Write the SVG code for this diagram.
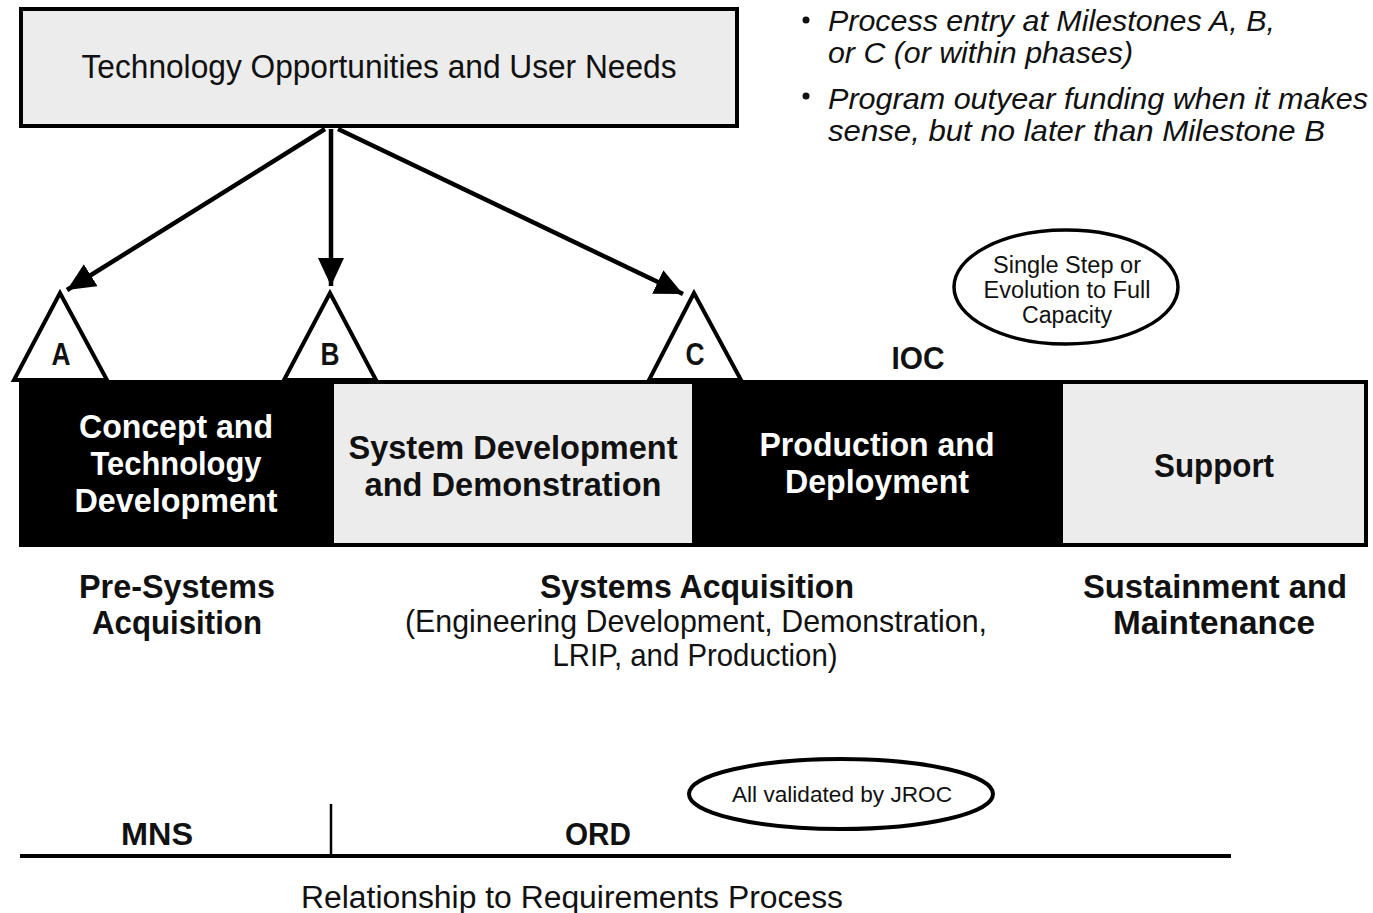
<svg xmlns="http://www.w3.org/2000/svg" width="1373" height="913" viewBox="0 0 1373 913">
<defs>
<style>
.reg{font-family:"Liberation Sans Narrow","Liberation Sans",Arial,sans-serif;fill:#111}
.bld{font-family:"Liberation Sans Narrow","Liberation Sans",Arial,sans-serif;font-weight:bold;fill:#111}
.wht{font-family:"Liberation Sans Narrow","Liberation Sans",Arial,sans-serif;font-weight:bold;fill:#fff}
.ital{font-family:"Liberation Sans","Arial",sans-serif;font-style:italic;fill:#111}
.conn{stroke:#000;stroke-width:4.5;fill:none}
.tri{fill:#fff;stroke:#000;stroke-width:4;stroke-linejoin:miter}
</style>
<marker id="ah" markerUnits="userSpaceOnUse" markerWidth="30" markerHeight="26" refX="28" refY="13" orient="auto">
<path d="M0,0 L28,13 L0,26 z" fill="#000"/>
</marker>
</defs>
<rect width="1373" height="913" fill="#fff"/>

<g id="needs">
<rect x="21" y="9" width="716" height="117" fill="#ececec" stroke="#000" stroke-width="4"/>
<text class="reg" x="379" y="78" font-size="34" text-anchor="middle" textLength="595" lengthAdjust="spacingAndGlyphs">Technology Opportunities and User Needs</text>
</g>

<g id="bullets">
<circle cx="806" cy="20" r="3.5" fill="#111"/>
<text class="ital" x="828" y="31" font-size="29" textLength="447" lengthAdjust="spacingAndGlyphs">Process entry at Milestones A, B,</text>
<text class="ital" x="828" y="63" font-size="29" textLength="305" lengthAdjust="spacingAndGlyphs">or C (or within phases)</text>
<circle cx="806" cy="96" r="3.5" fill="#111"/>
<text class="ital" x="828" y="109" font-size="29" textLength="540" lengthAdjust="spacingAndGlyphs">Program outyear funding when it makes</text>
<text class="ital" x="828" y="141" font-size="29" textLength="497" lengthAdjust="spacingAndGlyphs">sense, but no later than Milestone B</text>
</g>

<g id="connectors">
<line class="conn" x1="325" y1="129" x2="67" y2="290" marker-end="url(#ah)"/>
<line class="conn" x1="331" y1="129" x2="331" y2="286" marker-end="url(#ah)"/>
<line class="conn" x1="338" y1="129" x2="683" y2="294" marker-end="url(#ah)"/>
</g>

<g id="bar">
<rect x="19" y="380" width="1349" height="167" fill="#000"/>
<rect x="334" y="384" width="358" height="159" fill="#ececec"/>
<rect x="1063" y="384" width="301" height="159" fill="#ececec"/>
</g>

<g id="phase-concept">
<text class="wht" x="176" y="438" font-size="33" text-anchor="middle" textLength="194" lengthAdjust="spacingAndGlyphs">Concept and</text>
<text class="wht" x="176" y="475" font-size="33" text-anchor="middle" textLength="171" lengthAdjust="spacingAndGlyphs">Technology</text>
<text class="wht" x="176" y="512" font-size="33" text-anchor="middle" textLength="203" lengthAdjust="spacingAndGlyphs">Development</text>
</g>
<g id="phase-sdd">
<text class="bld" x="513" y="459" font-size="33" text-anchor="middle" textLength="329" lengthAdjust="spacingAndGlyphs">System Development</text>
<text class="bld" x="513" y="496" font-size="33" text-anchor="middle" textLength="297" lengthAdjust="spacingAndGlyphs">and Demonstration</text>
</g>
<g id="phase-production">
<text class="wht" x="877" y="456" font-size="33" text-anchor="middle" textLength="235" lengthAdjust="spacingAndGlyphs">Production and</text>
<text class="wht" x="877" y="493" font-size="33" text-anchor="middle" textLength="184" lengthAdjust="spacingAndGlyphs">Deployment</text>
</g>
<g id="phase-support">
<text class="bld" x="1214" y="477" font-size="33" text-anchor="middle" textLength="120" lengthAdjust="spacingAndGlyphs">Support</text>
</g>

<g id="milestone-a">
<polygon class="tri" points="60,293 14,380 107,380"/>
<text class="bld" x="61" y="365" font-size="31" text-anchor="middle" textLength="19" lengthAdjust="spacingAndGlyphs">A</text>
</g>
<g id="milestone-b">
<polygon class="tri" points="330,293 284,380 376,380"/>
<text class="bld" x="330" y="365" font-size="31" text-anchor="middle" textLength="19" lengthAdjust="spacingAndGlyphs">B</text>
</g>
<g id="milestone-c">
<polygon class="tri" points="694,293 649,380 741,380"/>
<text class="bld" x="695" y="365" font-size="31" text-anchor="middle" textLength="19" lengthAdjust="spacingAndGlyphs">C</text>
</g>

<g id="ioc">
<text class="bld" x="918" y="369" font-size="32" text-anchor="middle" textLength="53" lengthAdjust="spacingAndGlyphs">IOC</text>
</g>

<g id="single-step">
<ellipse cx="1066" cy="287" rx="112" ry="57" fill="#fff" stroke="#000" stroke-width="3.5"/>
<text class="reg" x="1067" y="273" font-size="23" text-anchor="middle" textLength="148" lengthAdjust="spacingAndGlyphs">Single Step or</text>
<text class="reg" x="1067" y="298" font-size="23" text-anchor="middle" textLength="167" lengthAdjust="spacingAndGlyphs">Evolution to Full</text>
<text class="reg" x="1067" y="323" font-size="23" text-anchor="middle" textLength="90" lengthAdjust="spacingAndGlyphs">Capacity</text>
</g>

<g id="pre-systems">
<text class="bld" x="177" y="598" font-size="33" text-anchor="middle" textLength="196" lengthAdjust="spacingAndGlyphs">Pre-Systems</text>
<text class="bld" x="177" y="634" font-size="33" text-anchor="middle" textLength="170" lengthAdjust="spacingAndGlyphs">Acquisition</text>
</g>
<g id="systems-acq">
<text class="bld" x="697" y="598" font-size="33" text-anchor="middle" textLength="314" lengthAdjust="spacingAndGlyphs">Systems Acquisition</text>
<text class="reg" x="696" y="632" font-size="32" text-anchor="middle" textLength="582" lengthAdjust="spacingAndGlyphs">(Engineering Development, Demonstration,</text>
<text class="reg" x="695" y="666" font-size="32" text-anchor="middle" textLength="285" lengthAdjust="spacingAndGlyphs">LRIP, and Production)</text>
</g>
<g id="sustainment">
<text class="bld" x="1215" y="598" font-size="33" text-anchor="middle" textLength="264" lengthAdjust="spacingAndGlyphs">Sustainment and</text>
<text class="bld" x="1214" y="634" font-size="33" text-anchor="middle" textLength="202" lengthAdjust="spacingAndGlyphs">Maintenance</text>
</g>

<g id="requirements">
<line x1="20" y1="856" x2="1231" y2="856" stroke="#000" stroke-width="4"/>
<line x1="331" y1="804" x2="331" y2="856" stroke="#000" stroke-width="2.5"/>
<text class="bld" x="157" y="845" font-size="32" text-anchor="middle" textLength="72" lengthAdjust="spacingAndGlyphs">MNS</text>
<text class="bld" x="598" y="845" font-size="32" text-anchor="middle" textLength="66" lengthAdjust="spacingAndGlyphs">ORD</text>
<text class="reg" x="572" y="908" font-size="31" text-anchor="middle" textLength="542" lengthAdjust="spacingAndGlyphs">Relationship to Requirements Process</text>
</g>

<g id="jroc">
<ellipse cx="841" cy="794" rx="152" ry="35" fill="#fff" stroke="#000" stroke-width="4"/>
<text class="reg" x="842" y="802" font-size="22" text-anchor="middle" textLength="220" lengthAdjust="spacingAndGlyphs">All validated by JROC</text>
</g>
</svg>
